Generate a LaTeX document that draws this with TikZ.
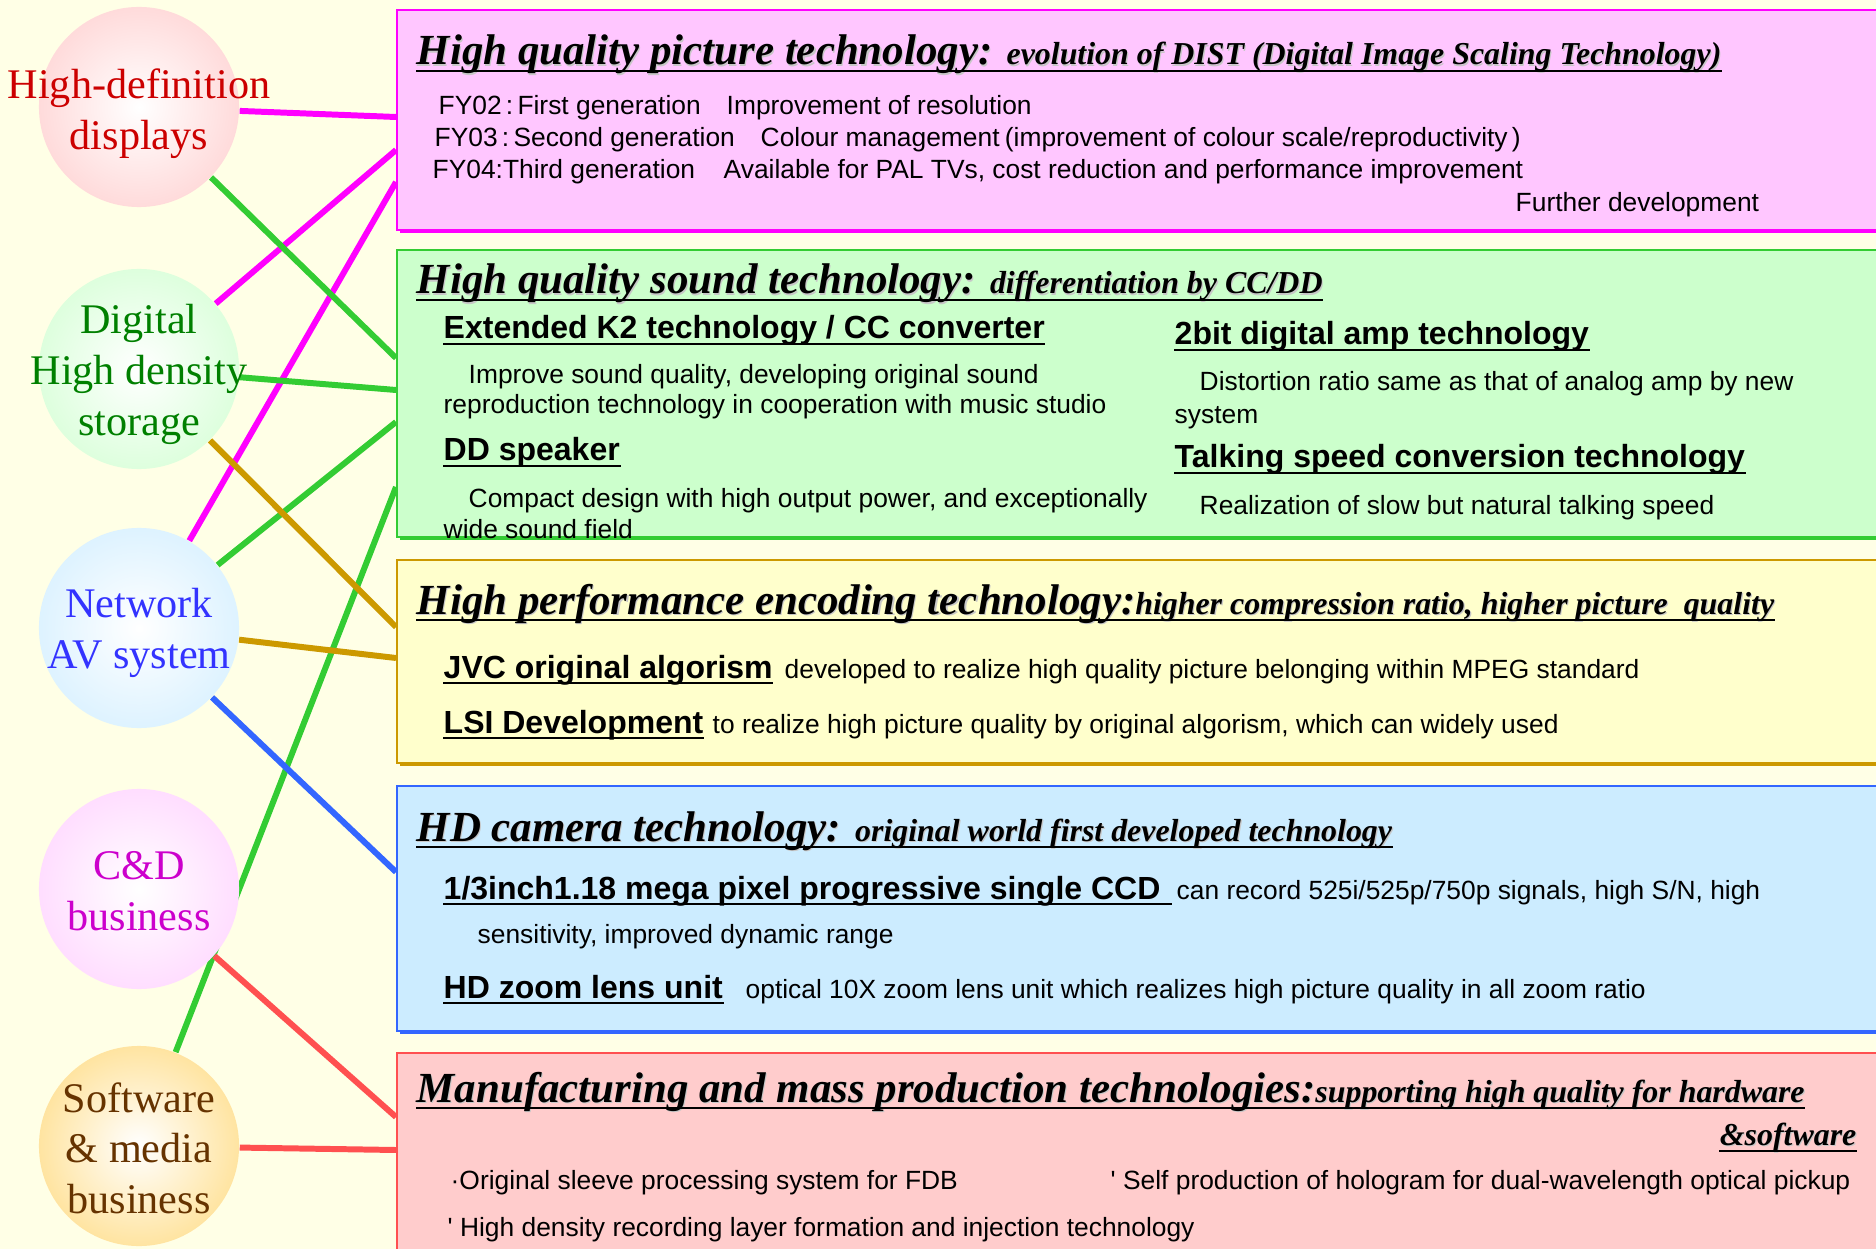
\documentclass[tikz,border=0pt]{standalone}
\usepackage{fontspec}
\setmainfont{Liberation Serif}
\setsansfont{Liberation Sans}
\usetikzlibrary{calc,shadows}

% page and panel colours
\definecolor{paper}{RGB}{255,255,230}
\definecolor{picfill}{RGB}{255,198,255}
\definecolor{picline}{RGB}{255,0,255}
\definecolor{sndfill}{RGB}{204,255,204}
\definecolor{sndline}{RGB}{51,204,51}
\definecolor{encfill}{RGB}{255,255,204}
\definecolor{encline}{RGB}{204,153,0}
\definecolor{camfill}{RGB}{204,236,255}
\definecolor{camline}{RGB}{51,102,255}
\definecolor{mfgfill}{RGB}{255,204,204}
\definecolor{mfgline}{RGB}{255,80,80}
% business bubbles
\definecolor{hdfill}{RGB}{255,200,200}
\definecolor{hdtext}{RGB}{204,0,0}
\definecolor{ddsfill}{RGB}{204,255,204}
\definecolor{ddstext}{RGB}{0,128,0}
\definecolor{navfill}{RGB}{204,236,255}
\definecolor{navtext}{RGB}{51,51,255}
\definecolor{cdfill}{RGB}{255,204,255}
\definecolor{cdtext}{RGB}{204,0,204}
\definecolor{swfill}{RGB}{255,214,112}
\definecolor{swtext}{RGB}{102,51,0}

\pgfdeclareradialshading{hdball}{\pgfpoint{0bp}{0bp}}{color(0bp)=(white); color(38bp)=(hdfill); color(50bp)=(hdfill)}
\pgfdeclareradialshading{ddsball}{\pgfpoint{0bp}{0bp}}{color(0bp)=(white); color(38bp)=(ddsfill); color(50bp)=(ddsfill)}
\pgfdeclareradialshading{navball}{\pgfpoint{0bp}{0bp}}{color(0bp)=(white); color(38bp)=(navfill); color(50bp)=(navfill)}
\pgfdeclareradialshading{cdball}{\pgfpoint{0bp}{0bp}}{color(0bp)=(white); color(38bp)=(cdfill); color(50bp)=(cdfill)}
\pgfdeclareradialshading{swball}{\pgfpoint{0bp}{0bp}}{color(0bp)=(white); color(38bp)=(swfill); color(50bp)=(swfill)}

\pgfdeclarelayer{paperlayer}
\pgfdeclarelayer{wires}
\pgfsetlayers{paperlayer,wires,main}

\newcommand\subttl{\fontsize{9.07}{11}\selectfont}
% panel title: grey shadow copy, black text, rule underneath
\newcommand\paneltitle[3]{%
  \node[ttl, text=black!22] (#1-sh) at ($(#2)+(1.1,1.1)$) {#3};
  \node[ttl] (#1) at (#2) {#3};
  \draw[ttlrule] ([yshift=-1.8pt]#1.base west) -- ([yshift=-1.8pt]#1.base east);}
\newcommand\headrule[1]{%
  \draw[headrule] ([yshift=-1.5pt]#1.base west) -- ([yshift=-1.5pt]#1.base east);}

\begin{document}
\begin{tikzpicture}[x=0.01cm, y=-0.01cm,
  ball/.style={circle, minimum size=2cm, inner sep=0pt, draw=none},
  bubtext/.style={align=center, inner sep=0pt, font=\fontsize{12}{14.4}\selectfont},
  link/.style={line width=1.7pt},
  panel/.style={rectangle, anchor=north west, minimum width=15.2cm, inner sep=0pt,
    line width=0.55pt, draw=#1line, fill=#1fill,
    drop shadow={shadow xshift=0.8pt, shadow yshift=-0.9pt, opacity=1, fill=#1line}},
  ttl/.style={anchor=base west, inner sep=0pt, font=\bfseries\itshape\fontsize{12.2}{14}\selectfont},
  ttlrule/.style={line width=0.65pt},
  headrule/.style={line width=0.5pt},
  head/.style={anchor=base west, inner sep=0pt, font=\sffamily\bfseries\fontsize{9.1}{11}\selectfont},
  body/.style={anchor=base west, inner sep=0pt, font=\sffamily\fontsize{7.5}{9}\selectfont}]

\begin{pgfonlayer}{paperlayer}
  \fill[paper] (0,0) rectangle (1876,1249);
\end{pgfonlayer}
\useasboundingbox (0,0) rectangle (1876,1249);
\clip (0,0) rectangle (1876,1249);

% business bubbles
\node[ball, shading=hdball]  (hd)  at (139,107)  {};
\node[ball, shading=ddsball] (dds) at (139,369)  {};
\node[ball, shading=navball] (nav) at (139,628)  {};
\node[ball, shading=cdball]  (cd)  at (139,889)  {};
\node[ball, shading=swball]  (sw)  at (139,1146) {};

\node[bubtext, text=hdtext]  (hd-t)  at (139,113.5) {High-definition\\displays};
\node[bubtext, text=ddstext] (dds-t) at (139,374.5) {Digital\\High density\\storage};
\node[bubtext, text=navtext] (nav-t) at (139,633)   {Network\\AV system};
\node[bubtext, text=cdtext]  (cd-t)  at (139,891)   {C\&D\\business};
\node[bubtext, text=swtext]  (sw-t)  at (139,1148)  {Software\\\& media\\business};

% technology panels
\node[panel=pic, minimum height=2.2cm]  (pic) at (396,9)    {};
\node[panel=snd, minimum height=2.87cm] (snd) at (396,249)  {};
\node[panel=enc, minimum height=2.03cm] (enc) at (396,559)  {};
\node[panel=cam, minimum height=2.45cm] (cam) at (396,785)  {};
\node[panel=mfg, minimum height=2.3cm]  (mfg) at (396,1052) {};

% connectors from businesses to technologies
\begin{pgfonlayer}{wires}
  \draw[link, picline] (hd)  -- ($(pic.north west)+(0,108)$);
  \draw[link, picline] (dds) -- ($(pic.north west)+(0,141)$);
  \draw[link, picline] (nav) -- ($(pic.north west)+(0,173)$);
  \draw[link, sndline] (hd)  -- ($(snd.north west)+(0,109)$);
  \draw[link, sndline] (dds) -- ($(snd.north west)+(0,141)$);
  \draw[link, sndline] (nav) -- ($(snd.north west)+(0,173)$);
  \draw[link, sndline] (sw)  -- ($(snd.north west)+(0,238)$);
  \draw[link, encline] (dds) -- ($(enc.north west)+(0,68)$);
  \draw[link, encline] (nav) -- ($(enc.north west)+(0,99)$);
  \draw[link, camline] (nav) -- ($(cam.north west)+(0,87)$);
  \draw[link, mfgline] (cd)  -- ($(mfg.north west)+(0,65)$);
  \draw[link, mfgline] (sw)  -- ($(mfg.north west)+(0,98)$);
\end{pgfonlayer}

% picture technology
\paneltitle{pic-ttl}{416,65}{High quality picture technology: {\subttl evolution of DIST (Digital Image Scaling Technology)}}
\node[body] (pic-a1) at (438,115) {FY02\kern1.2pt:\kern1.2pt First generation};
\node[body] (pic-a2) at (726,115) {Improvement of resolution};
\node[body] (pic-b1) at (434,147) {FY03\kern1.2pt:\kern1.2pt Second generation};
\node[body] (pic-b2) at (760,147) {Colour management\kern1.5pt(improvement of colour scale/reproductivity\kern1.2pt)};
\node[body] (pic-c1) at (432,179) {FY04:Third generation};
\node[body] (pic-c2) at (723,179) {Available for PAL TVs, cost reduction and performance improvement};
\node[body] (pic-d)  at (1515,212) {Further development};

% sound technology
\paneltitle{snd-ttl}{416,294}{High quality sound technology: {\subttl differentiation by CC/DD}}
\node[head] (snd-h1) at (443,339) {Extended K2 technology / CC converter}; \headrule{snd-h1}
\node[body] (snd-b1) at (468,384) {Improve sound quality, developing original sound};
\node[body] (snd-b2) at (443,414) {reproduction technology in cooperation with music studio};
\node[head] (snd-h2) at (443,461) {DD speaker}; \headrule{snd-h2}
\node[body] (snd-b3) at (468,507) {Compact design with high output power, and exceptionally};
\node[body] (snd-b4) at (443,538) {wide sound field};
\node[head] (snd-h3) at (1174,345) {2bit digital amp technology}; \headrule{snd-h3}
\node[body] (snd-b5) at (1199,391) {Distortion ratio same as that of analog amp by new};
\node[body] (snd-b6) at (1174,424) {system};
\node[head] (snd-h4) at (1174,468) {Talking speed conversion technology}; \headrule{snd-h4}
\node[body] (snd-b7) at (1199,514) {Realization of slow but natural talking speed};

% encoding technology
\paneltitle{enc-ttl}{416,614}{High performance encoding technology:{\subttl higher compression ratio, higher picture\ \ quality}}
\node[head] (enc-h1) at (443,678) {JVC original algorism}; \headrule{enc-h1}
\node[body] (enc-b1) at (784,678) {developed to realize high quality picture belonging within MPEG standard};
\node[head] (enc-h2) at (443,733) {LSI Development}; \headrule{enc-h2}
\node[body] (enc-b2) at (712,733) {to realize high picture quality by original algorism, which can widely used};

% camera technology
\paneltitle{cam-ttl}{416,841}{HD camera technology: {\subttl original world first developed technology}}
\node[head] (cam-h1) at (443,899) {1/3inch1.18 mega pixel progressive single CCD\kern3pt}; \headrule{cam-h1}
\node[body] (cam-b1) at (1176,899) {can record 525i/525p/750p signals, high S/N, high};
\node[body] (cam-b2) at (477,943) {sensitivity, improved dynamic range};
\node[head] (cam-h2) at (443,998) {HD zoom lens unit}; \headrule{cam-h2}
\node[body] (cam-b3) at (745,998) {optical 10X zoom lens unit which realizes high picture quality in all zoom ratio};

% manufacturing technology
\paneltitle{mfg-ttl}{416,1102}{Manufacturing and mass production technologies:{\subttl supporting high quality for hardware}}
\node[ttl, anchor=base east, text=black!22] (mfg-sw-sh) at (1858.1,1146.1) {\subttl\&software};
\node[ttl, anchor=base east] (mfg-sw) at (1857,1145) {\subttl\&software};
\draw[ttlrule] ([yshift=-1.8pt]mfg-sw.base west) -- ([yshift=-1.8pt]mfg-sw.base east);
\node[body] (mfg-b1) at (450,1189) {·Original sleeve processing system for FDB};
\node[body] (mfg-b2) at (1110,1189) {\textquotesingle\ Self production of hologram for dual-wavelength optical pickup};
\node[body] (mfg-b3) at (447,1236) {\textquotesingle\ High density recording layer formation and injection technology};

\end{tikzpicture}
\end{document}
